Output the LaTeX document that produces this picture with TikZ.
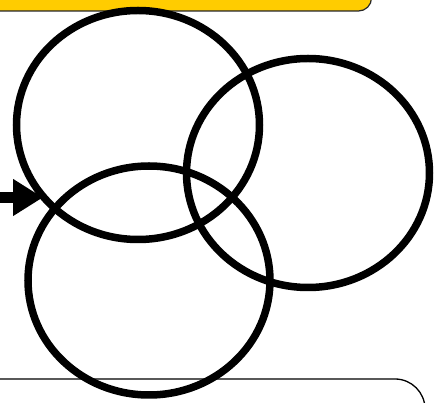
\documentclass[tikz,border=0pt]{standalone}
\usetikzlibrary{shapes.geometric,arrows.meta}
\definecolor{boxyellow}{HTML}{FFCC00}
\tikzset{
  ring/.style={draw=black, line width=7.5pt, ellipse, inner sep=0pt,
    minimum width=243pt, minimum height=229pt},
  topbox/.style={draw=black!85, fill=boxyellow, line width=1.2pt, rounded corners=13pt},
  bottombox/.style={draw=black, fill=white, line width=1.3pt, rounded corners=30pt},
  bigarrow/.style={draw=black, line width=11pt, -{Triangle[length=30pt,width=35pt]}}
}
\begin{document}
\begin{tikzpicture}[x=1pt,y=-1pt]
\useasboundingbox (0,0) rectangle (445,403);
\draw[topbox] (-30,-40) rectangle (371.5,11);
\draw[bottombox] (-30,379) rectangle (425,450);
\node[ring] (c1) at (138,125) {};
\node[ring] (c2) at (308,173) {};
\node[ring, minimum width=242pt, minimum height=229pt] (c3) at (149,280.5) {};
\coordinate (as) at (-2,197.5);
\coordinate (ae) at (43,197.5);
\draw[bigarrow] (as) -- (ae);
\end{tikzpicture}
\end{document}
